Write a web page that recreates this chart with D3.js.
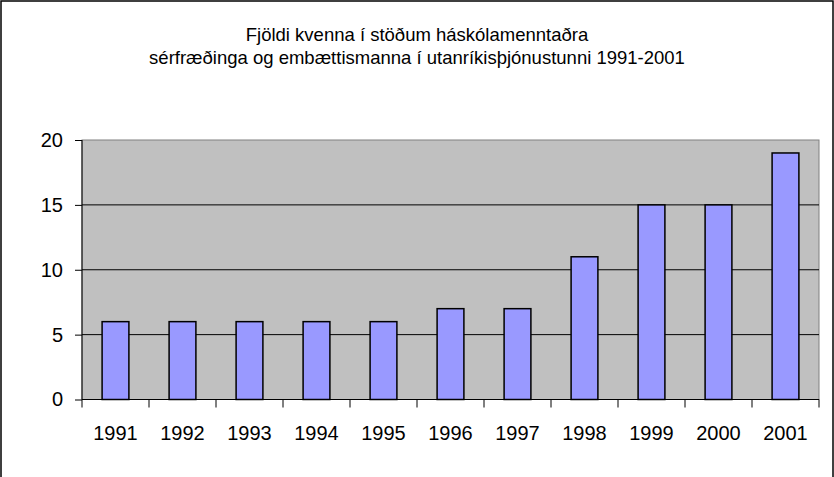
<!DOCTYPE html>
<html><head><meta charset="utf-8">
<script src="https://cdn.jsdelivr.net/npm/d3@7"></script>
<style>html,body{margin:0;padding:0;background:#fff;}svg{display:block;font-family:"Liberation Sans",Arial,sans-serif;}</style>
</head><body><div id="chart"></div>
<script>
const titleLines = ["Fjöldi kvenna í stöðum háskólamenntaðra", "sérfræðinga og embættismanna í utanríkisþjónustunni 1991-2001"];
const categories = ["1991","1992","1993","1994","1995","1996","1997","1998","1999","2000","2001"];
const values = [6,6,6,6,6,7,7,11,15,15,19];
const yTicks = [0,5,10,15,20];

const W = 834, H = 477;
const svg = d3.select("#chart").append("svg").attr("width", W).attr("height", H);
svg.append("rect").attr("x",1).attr("y",1).attr("width",W-2).attr("height",H+10)
  .attr("fill","#fff").attr("stroke","#000").attr("stroke-width",1.5);

const L = 82, R = 819, T = 140, B = 399.5;
const x = d3.scaleBand().domain(categories).range([L, R]).paddingInner(0.6).paddingOuter(0.3);
const xb = d3.scaleBand().domain(categories).range([L, R]);
const y = d3.scaleLinear().domain([0, 20]).range([B, T]);

svg.append("rect").attr("x",L).attr("y",T).attr("width",R-L).attr("height",B-T)
  .attr("fill","#C0C0C0").attr("stroke","#808080").attr("stroke-width",1);

svg.append("g").selectAll("line").data(yTicks.filter(d=>d>0 && d<20)).join("line")
  .attr("x1",L).attr("x2",R).attr("y1",d=>y(d)).attr("y2",d=>y(d))
  .attr("stroke","#000").attr("stroke-width",1);

svg.append("g").selectAll("rect").data(values).join("rect")
  .attr("x",(d,i)=>x(categories[i])).attr("width",x.bandwidth())
  .attr("y",d=>y(d)).attr("height",d=>B-y(d))
  .attr("fill","#9999FF").attr("stroke","#000").attr("stroke-width",1.5);

// y axis
const yAxis = d3.axisLeft(y).tickValues(yTicks).tickSize(7).tickPadding(12);
const gy = svg.append("g").attr("transform",`translate(${L},0)`).call(yAxis);
gy.select(".domain").attr("stroke","#000").attr("d",`M0,${T}V${B}`);
gy.selectAll(".tick line").attr("stroke","#000");
gy.selectAll("text").attr("font-size",20).attr("fill","#000").attr("font-family","Liberation Sans, Arial, sans-serif");

// x axis
const gx = svg.append("g").attr("transform",`translate(0,${B})`).call(d3.axisBottom(x).tickSize(0).tickPadding(0));
gx.select(".domain").attr("stroke","#000").attr("d",`M${L},0H${R}`);
gx.selectAll("text").attr("font-size",20).attr("fill","#000").attr("font-family","Liberation Sans, Arial, sans-serif")
  .attr("dy",null).attr("y",40);
const bounds = categories.map(c=>xb(c)).concat([R]);
svg.append("g").selectAll("line").data(bounds).join("line")
  .attr("x1",d=>d).attr("x2",d=>d).attr("y1",B).attr("y2",B+8).attr("stroke","#000");

svg.append("g").selectAll("text").data(titleLines).join("text")
  .attr("x",W/2).attr("y",(d,i)=>41+i*22.5).attr("text-anchor","middle")
  .attr("font-size",18.5).attr("fill","#000").text(d=>d);
</script></body></html>
